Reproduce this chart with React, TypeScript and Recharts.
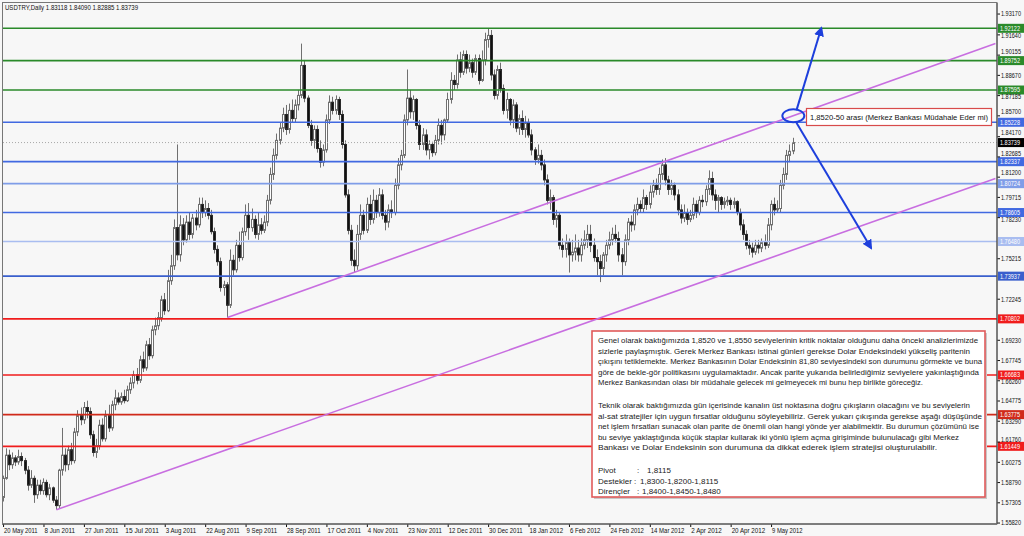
import React from 'react'
import { ComposedChart, Bar, XAxis, YAxis, ReferenceLine, ReferenceDot } from 'recharts'

// USDTRY daily, 20 May 2011 .. 18 May 2012
const opens = [
  1.577, 1.591, 1.608, 1.601, 1.606, 1.603, 1.607, 1.604, 1.597, 1.586,
  1.591, 1.579, 1.586, 1.582, 1.588, 1.579, 1.584, 1.575, 1.571, 1.597,
  1.608, 1.601, 1.612, 1.604, 1.625, 1.637, 1.634, 1.643, 1.640, 1.623,
  1.610, 1.615, 1.630, 1.620, 1.637, 1.628, 1.645, 1.650, 1.647, 1.651,
  1.648, 1.656, 1.661, 1.667, 1.663, 1.678, 1.672, 1.689, 1.681, 1.700,
  1.703, 1.709, 1.722, 1.714, 1.736, 1.747, 1.775, 1.755, 1.777, 1.766,
  1.779, 1.770, 1.782, 1.777, 1.792, 1.786, 1.789, 1.784, 1.772, 1.759,
  1.750, 1.731, 1.733, 1.718, 1.751, 1.744, 1.762, 1.753, 1.772, 1.784,
  1.775, 1.781, 1.770, 1.777, 1.773, 1.779, 1.795, 1.814, 1.828, 1.839,
  1.848, 1.858, 1.847, 1.861, 1.855, 1.865, 1.872, 1.894, 1.870, 1.850,
  1.839, 1.847, 1.833, 1.823, 1.832, 1.854, 1.867, 1.861, 1.869, 1.858,
  1.836, 1.799, 1.773, 1.751, 1.747, 1.770, 1.784, 1.773, 1.792, 1.781,
  1.795, 1.786, 1.799, 1.784, 1.779, 1.788, 1.786, 1.806, 1.821, 1.828,
  1.854, 1.870, 1.860, 1.869, 1.850, 1.836, 1.843, 1.832, 1.836, 1.830,
  1.839, 1.850, 1.843, 1.854, 1.869, 1.883, 1.880, 1.898, 1.889, 1.902,
  1.892, 1.896, 1.889, 1.899, 1.883, 1.898, 1.913, 1.916, 1.887, 1.872,
  1.891, 1.877, 1.861, 1.869, 1.854, 1.865, 1.848, 1.855, 1.847, 1.852,
  1.843, 1.832, 1.825, 1.828, 1.821, 1.810, 1.795, 1.797, 1.781, 1.784,
  1.762, 1.759, 1.764, 1.755, 1.757, 1.760, 1.755, 1.762, 1.766, 1.770,
  1.762, 1.753, 1.750, 1.745, 1.755, 1.762, 1.766, 1.770, 1.767, 1.755,
  1.750, 1.766, 1.779, 1.777, 1.788, 1.792, 1.789, 1.797, 1.792, 1.801,
  1.806, 1.803, 1.814, 1.821, 1.810, 1.803, 1.806, 1.799, 1.788, 1.782,
  1.786, 1.781, 1.784, 1.792, 1.786, 1.795, 1.794, 1.803, 1.811, 1.799,
  1.795, 1.797, 1.792, 1.794, 1.795, 1.792, 1.794, 1.786, 1.777, 1.770,
  1.762, 1.760, 1.757, 1.762, 1.760, 1.764, 1.762, 1.777, 1.792, 1.788,
  1.789, 1.806, 1.814, 1.828, 1.83118,
]

const highs = [
  1.593, 1.613, 1.612, 1.610, 1.608, 1.612, 1.610, 1.606, 1.600, 1.597,
  1.593, 1.590, 1.590, 1.591, 1.590, 1.587, 1.585, 1.578, 1.598, 1.628,
  1.613, 1.615, 1.617, 1.628, 1.641, 1.643, 1.647, 1.648, 1.643, 1.626,
  1.620, 1.634, 1.635, 1.641, 1.645, 1.648, 1.656, 1.654, 1.654, 1.656,
  1.659, 1.665, 1.670, 1.672, 1.681, 1.684, 1.692, 1.694, 1.703, 1.709,
  1.713, 1.725, 1.727, 1.744, 1.755, 1.781, 1.836, 1.784, 1.782, 1.784,
  1.786, 1.785, 1.788, 1.797, 1.797, 1.795, 1.793, 1.788, 1.775, 1.762,
  1.753, 1.736, 1.735, 1.759, 1.755, 1.766, 1.772, 1.775, 1.792, 1.793,
  1.789, 1.784, 1.786, 1.782, 1.784, 1.799, 1.819, 1.833, 1.844, 1.852,
  1.863, 1.865, 1.866, 1.869, 1.869, 1.876, 1.910, 1.898, 1.872, 1.854,
  1.850, 1.850, 1.839, 1.836, 1.858, 1.872, 1.871, 1.872, 1.871, 1.861,
  1.839, 1.803, 1.777, 1.759, 1.777, 1.792, 1.788, 1.797, 1.799, 1.803,
  1.799, 1.804, 1.803, 1.788, 1.792, 1.795, 1.811, 1.826, 1.832, 1.858,
  1.891, 1.876, 1.872, 1.870, 1.854, 1.848, 1.847, 1.839, 1.838, 1.843,
  1.855, 1.854, 1.855, 1.874, 1.889, 1.887, 1.902, 1.904, 1.905, 1.905,
  1.902, 1.899, 1.902, 1.902, 1.905, 1.918, 1.921, 1.920, 1.891, 1.894,
  1.896, 1.880, 1.874, 1.870, 1.869, 1.867, 1.858, 1.861, 1.857, 1.855,
  1.847, 1.834, 1.836, 1.832, 1.825, 1.814, 1.803, 1.799, 1.788, 1.786,
  1.767, 1.770, 1.767, 1.766, 1.770, 1.766, 1.767, 1.773, 1.777, 1.777,
  1.767, 1.759, 1.755, 1.757, 1.766, 1.772, 1.775, 1.777, 1.772, 1.760,
  1.770, 1.782, 1.784, 1.792, 1.797, 1.795, 1.803, 1.799, 1.806, 1.810,
  1.811, 1.819, 1.825, 1.826, 1.813, 1.810, 1.808, 1.803, 1.792, 1.792,
  1.789, 1.788, 1.797, 1.795, 1.798, 1.799, 1.806, 1.817, 1.816, 1.803,
  1.799, 1.798, 1.797, 1.798, 1.797, 1.797, 1.795, 1.789, 1.781, 1.773,
  1.766, 1.764, 1.766, 1.766, 1.767, 1.770, 1.782, 1.795, 1.797, 1.795,
  1.810, 1.819, 1.832, 1.836, 1.8409,
]

const lows = [
  1.574, 1.590, 1.597, 1.598, 1.600, 1.601, 1.600, 1.594, 1.582, 1.584,
  1.573, 1.576, 1.579, 1.579, 1.577, 1.575, 1.573, 1.568, 1.569, 1.593,
  1.596, 1.597, 1.601, 1.602, 1.622, 1.630, 1.631, 1.635, 1.620, 1.607,
  1.606, 1.612, 1.618, 1.618, 1.625, 1.626, 1.641, 1.645, 1.645, 1.646,
  1.647, 1.653, 1.657, 1.660, 1.661, 1.669, 1.670, 1.678, 1.679, 1.696,
  1.700, 1.706, 1.711, 1.713, 1.733, 1.744, 1.751, 1.750, 1.762, 1.764,
  1.766, 1.767, 1.773, 1.775, 1.782, 1.783, 1.781, 1.770, 1.756, 1.747,
  1.728, 1.725, 1.709, 1.716, 1.740, 1.742, 1.750, 1.751, 1.769, 1.766,
  1.772, 1.767, 1.766, 1.770, 1.771, 1.776, 1.792, 1.810, 1.825, 1.836,
  1.845, 1.843, 1.844, 1.852, 1.852, 1.861, 1.870, 1.867, 1.848, 1.835,
  1.833, 1.830, 1.819, 1.820, 1.830, 1.851, 1.858, 1.858, 1.854, 1.833,
  1.797, 1.770, 1.747, 1.742, 1.744, 1.766, 1.770, 1.771, 1.777, 1.778,
  1.782, 1.783, 1.781, 1.773, 1.775, 1.782, 1.784, 1.803, 1.817, 1.826,
  1.850, 1.855, 1.854, 1.847, 1.832, 1.832, 1.828, 1.825, 1.827, 1.828,
  1.836, 1.836, 1.839, 1.852, 1.866, 1.876, 1.877, 1.885, 1.887, 1.888,
  1.889, 1.885, 1.887, 1.880, 1.882, 1.894, 1.907, 1.883, 1.869, 1.869,
  1.874, 1.858, 1.855, 1.850, 1.848, 1.845, 1.843, 1.843, 1.841, 1.841,
  1.828, 1.821, 1.822, 1.817, 1.806, 1.792, 1.788, 1.777, 1.775, 1.759,
  1.753, 1.753, 1.742, 1.750, 1.751, 1.750, 1.750, 1.759, 1.760, 1.757,
  1.750, 1.740, 1.735, 1.740, 1.750, 1.759, 1.762, 1.764, 1.750, 1.740,
  1.747, 1.762, 1.772, 1.773, 1.784, 1.786, 1.786, 1.788, 1.789, 1.797,
  1.799, 1.799, 1.810, 1.806, 1.799, 1.799, 1.795, 1.784, 1.778, 1.779,
  1.777, 1.779, 1.781, 1.782, 1.784, 1.790, 1.791, 1.799, 1.795, 1.788,
  1.786, 1.788, 1.789, 1.791, 1.788, 1.789, 1.784, 1.773, 1.766, 1.759,
  1.755, 1.753, 1.755, 1.756, 1.757, 1.759, 1.760, 1.773, 1.784, 1.786,
  1.786, 1.803, 1.810, 1.823, 1.82885,
]

const closes = [
  1.591, 1.608, 1.601, 1.606, 1.603, 1.607, 1.604, 1.597, 1.586, 1.591,
  1.579, 1.586, 1.582, 1.588, 1.579, 1.584, 1.575, 1.571, 1.597, 1.608,
  1.601, 1.612, 1.604, 1.625, 1.637, 1.634, 1.643, 1.640, 1.623, 1.610,
  1.615, 1.630, 1.620, 1.637, 1.628, 1.645, 1.650, 1.647, 1.651, 1.648,
  1.656, 1.661, 1.667, 1.663, 1.678, 1.672, 1.689, 1.681, 1.700, 1.703,
  1.709, 1.722, 1.714, 1.736, 1.747, 1.775, 1.755, 1.777, 1.766, 1.779,
  1.770, 1.782, 1.777, 1.792, 1.786, 1.789, 1.784, 1.772, 1.759, 1.750,
  1.731, 1.733, 1.718, 1.751, 1.744, 1.762, 1.753, 1.772, 1.784, 1.775,
  1.781, 1.770, 1.777, 1.773, 1.779, 1.795, 1.814, 1.828, 1.839, 1.848,
  1.858, 1.847, 1.861, 1.855, 1.865, 1.872, 1.894, 1.870, 1.850, 1.839,
  1.847, 1.833, 1.823, 1.832, 1.854, 1.867, 1.861, 1.869, 1.858, 1.836,
  1.799, 1.773, 1.751, 1.747, 1.770, 1.784, 1.773, 1.792, 1.781, 1.795,
  1.786, 1.799, 1.784, 1.779, 1.788, 1.786, 1.806, 1.821, 1.828, 1.854,
  1.870, 1.860, 1.869, 1.850, 1.836, 1.843, 1.832, 1.836, 1.830, 1.839,
  1.850, 1.843, 1.854, 1.869, 1.883, 1.880, 1.898, 1.889, 1.902, 1.892,
  1.896, 1.889, 1.899, 1.883, 1.898, 1.913, 1.916, 1.887, 1.872, 1.891,
  1.877, 1.861, 1.869, 1.854, 1.865, 1.848, 1.855, 1.847, 1.852, 1.843,
  1.832, 1.825, 1.828, 1.821, 1.810, 1.795, 1.797, 1.781, 1.784, 1.762,
  1.759, 1.764, 1.755, 1.757, 1.760, 1.755, 1.762, 1.766, 1.770, 1.762,
  1.753, 1.750, 1.745, 1.755, 1.762, 1.766, 1.770, 1.767, 1.755, 1.750,
  1.766, 1.779, 1.777, 1.788, 1.792, 1.789, 1.797, 1.792, 1.801, 1.806,
  1.803, 1.814, 1.821, 1.810, 1.803, 1.806, 1.799, 1.788, 1.782, 1.786,
  1.781, 1.784, 1.792, 1.786, 1.795, 1.794, 1.803, 1.811, 1.799, 1.795,
  1.797, 1.792, 1.794, 1.795, 1.792, 1.794, 1.786, 1.777, 1.770, 1.762,
  1.760, 1.757, 1.762, 1.760, 1.764, 1.762, 1.777, 1.792, 1.788, 1.789,
  1.806, 1.814, 1.828, 1.831, 1.83739,
]

// empty bars to the right of the last candle (chart shift)
const totalSlots = 320

const tickBars = [0, 13, 26, 39, 52, 65, 78, 91, 104, 117, 130, 143, 156, 169, 182, 195, 208, 221, 234, 247]
const tickLabels = [
  '20 May 2011', '8 Jun 2011', '27 Jun 2011', '15 Jul 2011', '3 Aug 2011', '22 Aug 2011', '9 Sep 2011',
  '28 Sep 2011', '17 Oct 2011', '4 Nov 2011', '23 Nov 2011', '12 Dec 2011', '30 Dec 2011', '18 Jan 2012',
  '6 Feb 2012', '24 Feb 2012', '14 Mar 2012', '2 Apr 2012', '20 Apr 2012', '9 May 2012',
]

// scale ticks that are not hidden under the level labels
const priceTicks = [
  1.9317, 1.9164, 1.90155, 1.8867, 1.87185, 1.857, 1.8417, 1.82685, 1.812, 1.79715, 1.7823, 1.75215,
  1.72245, 1.6923, 1.67745, 1.6626, 1.64775, 1.6329, 1.6176, 1.60275, 1.5879, 1.57305, 1.5582,
]

// horizontal support / resistance levels
const levels = [1.92122, 1.89752, 1.87595, 1.85228, 1.82337, 1.80724, 1.78605, 1.7648, 1.73937, 1.70802, 1.66683, 1.63775, 1.61449]
const levelColors = [
  '#2a8a2a', '#2a8a2a', '#2a8a2a', '#4169e1', '#4169e1', '#7f9de8', '#4169e1', '#a9bdf0', '#3a5fcd',
  '#f01c1c', '#f01c1c', '#d02a1a', '#f01c1c',
]
const lastPrice = 1.83739

// channel lines [bar, price]
const upperChannel = [[72, 1.709], [319, 1.910]]
const lowerChannel = [[17, 1.568], [319, 1.811]]
const upArrow = [[255, 1.861], [263, 1.9214]]
const downArrow = [[255, 1.852], [279, 1.760]]
const circleAt = [254, 1.857]

const Y_DOMAIN = [1.5575, 1.9398]
const PLOT_H = 521

const data = Array.from({ length: totalSlots }, (_, i) =>
  i < closes.length
    ? { i, range: [lows[i], highs[i]], o: opens[i], h: highs[i], l: lows[i], c: closes[i] }
    : { i, range: null }
)

const FONT = 'Liberation Sans, Arial, sans-serif'

const Candle = (props: any) => {
  const { x, y, width, height, payload } = props
  if (!payload || payload.o == null || x == null) return null
  const { o, h, l, c } = payload
  const top = height >= 0 ? y : y + height
  const span = Math.abs(height)
  const k = h === l ? 0 : span / (h - l)
  const yo = top + (h - o) * k
  const yc = top + (h - c) * k
  const cx = Math.floor(x + width / 2) + 0.5
  const up = c >= o
  const bTop = Math.min(yo, yc)
  const bH = Math.max(Math.abs(yc - yo), 1)
  return (
    <g>
      <line x1={cx} x2={cx} y1={top} y2={top + span} stroke="#707070" strokeWidth={1} />
      <rect
        x={cx - 1}
        y={bTop}
        width={2}
        height={bH}
        fill={up ? '#ffffff' : '#111111'}
        stroke={up ? '#707070' : '#2a2a2a'}
        strokeWidth={1}
      />
    </g>
  )
}

// nudge a scale label so it does not run under a level label
const tickShift = (v: number) => {
  const pxPerUnit = PLOT_H / (Y_DOMAIN[1] - Y_DOMAIN[0])
  let shift = 0
  for (const lv of [...levels, lastPrice]) {
    const d = (lv - v) * pxPerUnit // >0: level above tick (smaller y)
    if (d < 0 && d > -10) {
      // level below the tick: keep text bottom above label top
      const need = d + 4.3 - 2.3
      if (need < shift) shift = need
    } else if (d >= 0 && d < 10) {
      const need = 4.6 + 4.8 - d - 2.3
      if (need > shift) shift = need
    }
  }
  return shift
}

const YTick = (props: any) => {
  const { x, y, payload } = props
  const v = Number(payload.value)
  return (
    <text x={x - 1} y={y + 2.3 + tickShift(v)} fontSize={6.6} fontFamily={FONT} fill="#111" textLength={20} lengthAdjust="spacingAndGlyphs">
      {v.toFixed(5)}
    </text>
  )
}

const XTick = (props: any) => {
  const { x, y, payload } = props
  const idx = tickBars.indexOf(payload.value)
  if (idx < 0) return null
  const label = tickLabels[idx]
  return (
    <text x={x + 0.5} y={y + 4} fontSize={6.8} fontFamily={FONT} fill="#111" textLength={label.length * 3.05} lengthAdjust="spacingAndGlyphs">
      {label}
    </text>
  )
}

const priceLabel = (value: number, bg: string) => (props: any) => {
  const vb = props.viewBox || {}
  const right = (vb.x || 0) + (vb.width || 0)
  const cy = vb.y || 0
  return (
    <g>
      <rect x={right + 1} y={cy - 4.5} width={26} height={9} fill={bg} />
      <text x={right + 3} y={cy + 2.4} fontSize={6.6} fontFamily={FONT} fill="#fff" textLength={20} lengthAdjust="spacingAndGlyphs">
        {value.toFixed(5)}
      </text>
    </g>
  )
}

const para1 = [
  'Genel olarak baktığımızda 1,8520 ve 1,8550 seviyelerinin kritik noktalar olduğunu daha önceki analizlerimizde',
  'sizlerle paylaşmıştık. Gerek Merkez Bankası istinai günleri gerekse Dolar Endeksindeki yükseliş paritenin',
  'çıkışını tetiklemekte. Merkez Bankasının Dolar Endeksinin 81,80 seviyesindeki son durumunu görmekte ve buna',
  'göre de bekle-gör politikasını uygulamaktadır. Ancak parite yukarıda belirlediğimiz seviyelere yakınlaştığında',
  'Merkez Bankasından olası bir müdahale gelecek mi gelmeyecek mi bunu hep birlikte göreceğiz.',
]
const para2 = [
  'Teknik olarak baktığımızda gün içerisinde kanalın üst noktasına doğru çıkışların olacağını ve bu seviyelerin',
  'al-sat stratejiler için uygun fırsatlar olduğunu söyleyebiliriz. Gerek yukarı çıkışında gerekse aşağı düşüşünde',
  'net işlem fırsatları sunacak olan parite de önemli olan hangi yönde yer alabilmektir. Bu durumun çözümünü ise',
  'bu seviye yaklaştığında küçük staplar kullarak iki yönlü işlem açma girişiminde bulunulacağı gibi Merkez',
  'Bankası ve Dolar Endeksinin son durumuna da dikkat ederek işlem stratejisi oluşturulabilir.',
]
const para1Widths = [380, 372, 384, 381, 325]
const para2Widths = [372, 384, 381, 361, 339]
const para1Y = [343, 354, 364, 374.5, 385]
const para2Y = [408, 419, 429, 440, 450]

const Overlay = () => (
  <svg width={1024} height={536} style={{ position: 'absolute', left: 0, top: 0, pointerEvents: 'none' }}>
    <defs>
      <marker id="arrowHead" viewBox="0 0 10 10" refX="8" refY="5" markerWidth="5" markerHeight="5" orient="auto">
        <path d="M0,0 L10,5 L0,10 z" fill="#1d3fdc" />
      </marker>
    </defs>
    <rect x={2.5} y={2.5} width={994.5} height={521.5} fill="none" stroke="#777" strokeWidth={1} />
    <text x={5} y={10} fontSize={7} fontFamily={FONT} fill="#111" textLength={133} lengthAdjust="spacingAndGlyphs">
      USDTRY,Daily  1.83118 1.84090 1.82885 1.83739
    </text>

    <rect x={806.5} y={108.5} width={185} height={17} fill="#fff" stroke="#d84a4a" strokeWidth={1.2} />
    <text x={810} y={120} fontSize={8} fontFamily={FONT} fill="#111" textLength={178} lengthAdjust="spacingAndGlyphs">
      1,8520-50 arası (Merkez Bankası Müdahale Eder mi)
    </text>

    <rect x={594} y={333} width={393} height={166} fill="#c8c8c8" />
    <rect x={592} y={331} width={393} height={166} fill="#fff" stroke="#e05a5a" strokeWidth={1.6} />
    {para1.map((t, k) => (
      <text key={'a' + k} x={598} y={para1Y[k]} fontSize={8} fontFamily={FONT} fill="#1a1a1a" textLength={para1Widths[k]} lengthAdjust="spacingAndGlyphs">
        {t}
      </text>
    ))}
    {para2.map((t, k) => (
      <text key={'b' + k} x={598} y={para2Y[k]} fontSize={8} fontFamily={FONT} fill="#1a1a1a" textLength={para2Widths[k]} lengthAdjust="spacingAndGlyphs">
        {t}
      </text>
    ))}
    <g fontSize={8} fontFamily={FONT} fill="#1a1a1a">
      <text x={598} y={473}>Pivot</text>
      <text x={637} y={473}>:</text>
      <text x={647} y={473}>1,8115</text>
      <text x={598} y={483.5}>Destekler</text>
      <text x={634} y={483.5}>:</text>
      <text x={640} y={483.5}>1,8300-1,8200-1,8115</text>
      <text x={598} y={494}>Dirençler</text>
      <text x={637} y={494}>:</text>
      <text x={642} y={494}>1,8400-1,8450-1,8480</text>
    </g>
  </svg>
)

export default function App() {
  return (
    <div style={{ position: 'absolute', left: 0, top: 0, width: 1024, height: 536, background: '#f7f7f7', overflow: 'hidden' }}>
      <ComposedChart width={1024} height={536} data={data} margin={{ top: 3, right: 0, bottom: 0, left: 2 }}>
        <XAxis
          dataKey="i"
          type="category"
          height={12}
          ticks={tickBars}
          interval={0}
          tick={<XTick />}
          tickSize={3}
          tickLine={{ stroke: '#111' }}
          axisLine={{ stroke: '#111' }}
        />
        <YAxis
          orientation="right"
          type="number"
          width={27}
          domain={Y_DOMAIN}
          allowDataOverflow
          ticks={priceTicks}
          interval={0}
          tick={<YTick />}
          tickSize={3}
          tickLine={{ stroke: '#111' }}
          axisLine={{ stroke: '#111' }}
        />
        {levels.map((v, k) => (
          <ReferenceLine key={v} y={v} stroke={levelColors[k]} strokeWidth={1.6} label={priceLabel(v, levelColors[k])} />
        ))}
        <ReferenceLine y={lastPrice} stroke="#a8a8a8" strokeDasharray="1 2" label={priceLabel(lastPrice, '#000')} />
        <ReferenceLine
          segment={upperChannel.map(([x, y]) => ({ x, y }))}
          stroke="#c86ee0"
          strokeWidth={1.6}
        />
        <ReferenceLine
          segment={lowerChannel.map(([x, y]) => ({ x, y }))}
          stroke="#c86ee0"
          strokeWidth={1.6}
        />
        <Bar dataKey="range" shape={<Candle />} isAnimationActive={false} />
        <ReferenceLine
          segment={upArrow.map(([x, y]) => ({ x, y }))}
          stroke="#1d3fdc"
          strokeWidth={2}
          markerEnd="url(#arrowHead)"
        />
        <ReferenceLine
          segment={downArrow.map(([x, y]) => ({ x, y }))}
          stroke="#1d3fdc"
          strokeWidth={2}
          markerEnd="url(#arrowHead)"
        />
        <ReferenceDot
          x={circleAt[0]}
          y={circleAt[1]}
          r={8}
          shape={(p: any) => <ellipse cx={p.cx} cy={p.cy} rx={11} ry={6.5} fill="none" stroke="#1d3fdc" strokeWidth={2} />}
        />
      </ComposedChart>
      <Overlay />
    </div>
  )
}
